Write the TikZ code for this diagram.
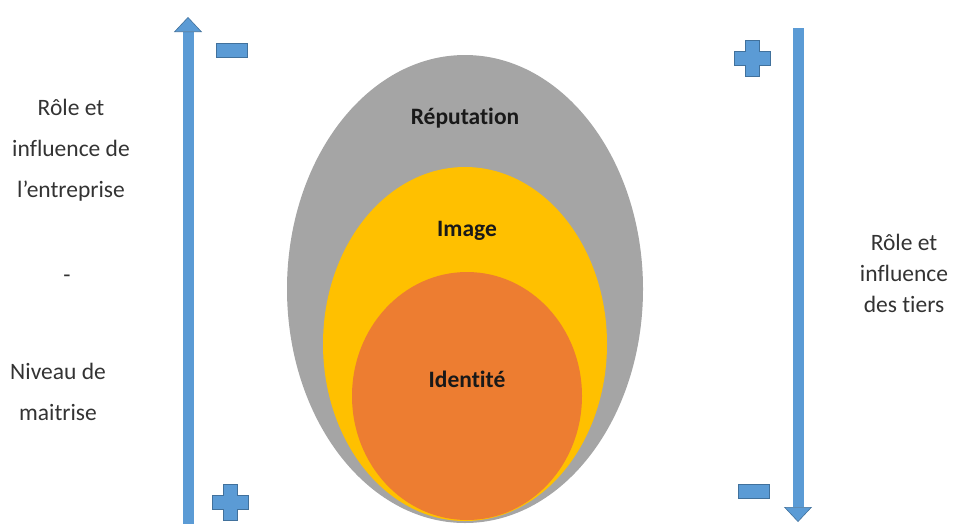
\documentclass[tikz,border=0pt]{standalone}
\usepackage{fontspec}
\setmainfont{Carlito}[Ligatures=NoCommon]
\usetikzlibrary{arrows.meta,positioning}
\definecolor{bleu}{HTML}{5B9BD5}
\definecolor{bleufonce}{HTML}{41719C}
\definecolor{gris}{HTML}{A5A5A5}
\definecolor{jaune}{HTML}{FFC000}
\definecolor{orangeid}{HTML}{ED7D31}
\tikzset{
  fleche/.style={line width=11pt, bleu,
    -{Triangle[width=28pt,length=15pt,line width=0.6pt,fill=bleu,color=bleufonce]}},
  moins/.style={rectangle, fill=bleu, draw=bleufonce, line width=0.6pt,
    minimum width=31pt, minimum height=14pt, inner sep=0pt},
  signe/.style={fill=bleu, draw=bleufonce, line width=0.6pt},
  legende/.style={font=\fontsize{23.5}{41}\selectfont, align=center, text=black!80},
  cercle/.style={font=\fontsize{23.5}{28}\selectfont\bfseries, text=black!90}
}
\begin{document}
\begin{tikzpicture}[x=1pt,y=-1pt]
\useasboundingbox (0,0) rectangle (953,523);

% les trois cercles
\fill[gris] (465,289) ellipse [x radius=178pt, y radius=234pt];
\fill[jaune] (465,344) ellipse [x radius=142pt, y radius=177pt];
\fill[orangeid] (467,396) ellipse [x radius=115pt, y radius=124pt];
\node[cercle] (reput) at (465,118) {Réputation};
\node[cercle] (image) at (467,231) {Image};
\node[cercle] (ident) at (467,379) {Identité};

% fleche de gauche
\coordinate (gbas) at (188,524);
\coordinate (ghaut) at (188,17);
\draw[fleche] (gbas) -- (ghaut);
\node[moins] (gmoins) at (232,50) {};
\coordinate (gplus) at (230,502);
\draw[signe] (gplus) ++(-7,-18) -- ++(14,0) -- ++(0,11) -- ++(11,0) -- ++(0,14)
  -- ++(-11,0) -- ++(0,11) -- ++(-14,0) -- ++(0,-11) -- ++(-11,0) -- ++(0,-14)
  -- ++(11,0) -- cycle;

% fleche de droite
\coordinate (dhaut) at (798,28);
\coordinate (dbas) at (798,522);
\draw[fleche] (dhaut) -- (dbas);
\node[moins] (dmoins) at (754,491) {};
\coordinate (dplus) at (752,58);
\draw[signe] (dplus) ++(-7,-18) -- ++(14,0) -- ++(0,11) -- ++(11,0) -- ++(0,14)
  -- ++(-11,0) -- ++(0,11) -- ++(-14,0) -- ++(0,-11) -- ++(-11,0) -- ++(0,-14)
  -- ++(11,0) -- cycle;

% textes
\node[legende] (entreprise) at (71,150) {Rôle et\\influence de\\l’entreprise};
\node[legende] (tiret) at (67,279) {-};
\node[legende] (maitrise) at (58,392) {Niveau de\\maitrise};
\node[legende, font=\fontsize{23.5}{31}\selectfont] (tiers) at (904,273) {Rôle et\\influence\\des tiers};
\end{tikzpicture}
\end{document}
